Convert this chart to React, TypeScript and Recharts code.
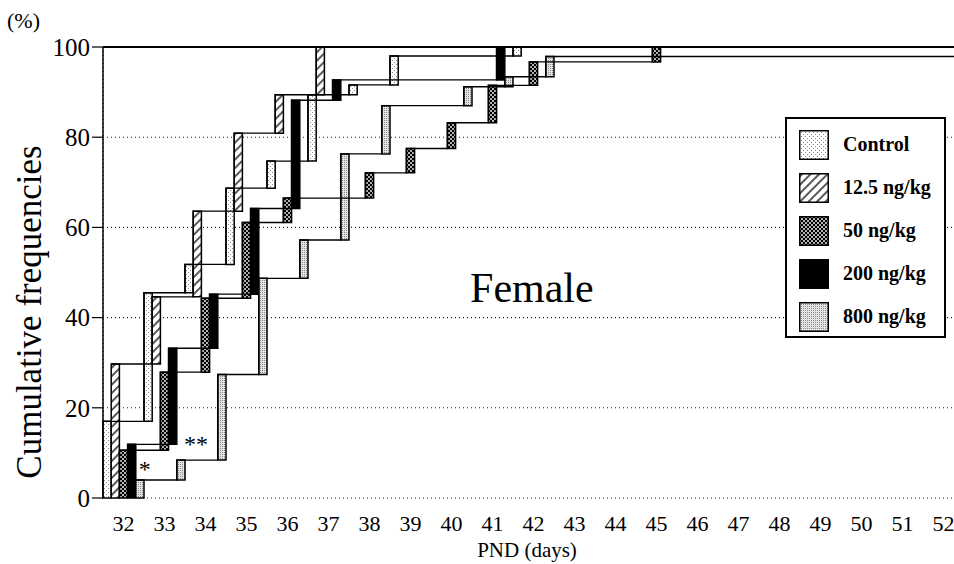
import React from 'react';
import {
  ComposedChart,
  Line,
  XAxis,
  YAxis,
  CartesianGrid,
  ReferenceArea,
  ReferenceLine,
  ReferenceDot,
  Legend,
} from 'recharts';

const SERIF = "'Liberation Serif', 'Times New Roman', Times, serif";

// x categories (PND days) and y ticks
const DAYS = [32, 33, 34, 35, 36, 37, 38, 39, 40, 41, 42, 43, 44, 45, 46, 47, 48, 49, 50, 51, 52];
const Y_TICKS = [0, 20, 40, 60, 80, 100];
const SERIES_NAMES = ['Control', '12.5 ng/kg', '50 ng/kg', '200 ng/kg', '800 ng/kg'];

// cumulative frequencies (%) at each day where the curve steps up
const CONTROL_DAYS = [32, 33, 34, 35, 36, 37, 38, 39, 42];
const CONTROL_CUM = [17.0, 45.5, 51.8, 68.7, 74.7, 89.4, 91.6, 98.0, 100];

const D12_DAYS = [32, 33, 34, 35, 36, 37];
const D12_CUM = [29.7, 44.6, 63.6, 80.9, 89.4, 100];

const D50_DAYS = [32, 33, 34, 35, 36, 38, 39, 40, 41, 42, 45];
const D50_CUM = [10.6, 27.9, 44.3, 61.1, 66.5, 72.1, 77.5, 83.2, 91.5, 96.7, 100];

const D200_DAYS = [32, 33, 34, 35, 36, 37, 41];
const D200_CUM = [11.9, 33.2, 45.2, 64.2, 88.2, 92.7, 100];

const D800_DAYS = [32, 33, 34, 35, 36, 37, 38, 40, 41, 42];
const D800_CUM = [4.0, 8.4, 27.4, 48.7, 57.2, 76.3, 87.0, 91.2, 93.4, 97.9];

// annotations
const STAR_1 = { text: '*', x: 32.52, y: 7.1 };
const STAR_2 = { text: '**', x: 33.77, y: 12.6 };
const PANEL_LABEL = { text: 'Female', x: 41.96, y: 43.5 };

const SERIES = [
  { name: SERIES_NAMES[0], days: CONTROL_DAYS, cum: CONTROL_CUM },
  { name: SERIES_NAMES[1], days: D12_DAYS, cum: D12_CUM },
  { name: SERIES_NAMES[2], days: D50_DAYS, cum: D50_CUM },
  { name: SERIES_NAMES[3], days: D200_DAYS, cum: D200_CUM },
  { name: SERIES_NAMES[4], days: D800_DAYS, cum: D800_CUM },
];

const SLOT = 1 / SERIES.length;
const X_MIN = DAYS[0] - 0.5;
const X_MAX = DAYS[DAYS.length - 1] + 0.5;
const BOUNDS = [...DAYS.map((d) => d - 0.5), X_MAX];

const CSS = `
.chart-root, .chart-root text, .chart-root tspan { font-family: 'Liberation Serif', 'Times New Roman', Times, serif !important; }
`;

function Patterns({ p }: { p: string }) {
  return (
    <defs>
      <pattern id={`${p}-0`} width="4" height="4" patternUnits="userSpaceOnUse">
        <rect width="4" height="4" fill="#fff" />
        <rect x="0" y="0" width="1" height="1" fill="#8c8c8c" />
        <rect x="2" y="2" width="1" height="1" fill="#8c8c8c" />
      </pattern>
      <pattern id={`${p}-1`} width="6" height="6" patternUnits="userSpaceOnUse" patternTransform="rotate(45)">
        <rect width="6" height="6" fill="#fff" />
        <line x1="3" y1="0" x2="3" y2="6" stroke="#000" strokeWidth="1.3" />
      </pattern>
      <pattern id={`${p}-2`} width="4" height="4" patternUnits="userSpaceOnUse">
        <rect width="4" height="4" fill="#000" />
        <circle cx="1" cy="1" r="0.95" fill="#fff" />
        <circle cx="3" cy="3" r="0.95" fill="#fff" />
      </pattern>
      <pattern id={`${p}-3`} width="4" height="4" patternUnits="userSpaceOnUse">
        <rect width="4" height="4" fill="#000" />
      </pattern>
      <pattern id={`${p}-4`} width="2" height="2" patternUnits="userSpaceOnUse">
        <rect width="2" height="2" fill="#e4e4e4" />
        <rect width="1" height="1" fill="#8a8a8a" />
      </pattern>
    </defs>
  );
}

function LegendBox() {
  return (
    <div
      style={{
        position: 'relative',
        width: 161,
        height: 221,
        boxSizing: 'border-box',
        border: '2px solid #000',
        background: '#fff',
        fontFamily: SERIF,
      }}
    >
      {SERIES_NAMES.map((n, i) => (
        <div
          key={n}
          style={{
            position: 'absolute',
            left: 12,
            top: 10.7 + 43 * i,
            height: 30,
            display: 'flex',
            alignItems: 'center',
          }}
        >
          <svg width={30} height={30} style={{ display: 'block' }}>
            <Patterns p={`lg${i}`} />
            <rect x={0.75} y={0.75} width={28.5} height={28.5} fill={`url(#lg${i}-${i})`} stroke="#000" strokeWidth={1.5} />
          </svg>
          <span style={{ marginLeft: 14, fontWeight: 'bold', fontSize: 20, color: '#000', whiteSpace: 'nowrap' }}>{n}</span>
        </div>
      ))}
    </div>
  );
}

function TextMark(props: any, text: string, size: number, dy: string) {
  return (
    <text x={props.cx} y={props.cy} dy={dy} textAnchor="middle" fontSize={size} fontFamily={SERIF} fill="#000">
      {text}
    </text>
  );
}

function XTick(props: any) {
  return (
    <text x={props.x} y={props.y} dy={33} textAnchor="middle" fontSize={22} fontFamily={SERIF} fill="#000">
      {props.payload.value}
    </text>
  );
}

function YTick(props: any) {
  return (
    <text x={props.x} y={props.y} dy="0.35em" textAnchor="end" fontSize={25} fontFamily={SERIF} fill="#000">
      {props.payload.value}
    </text>
  );
}

export default function App() {
  return (
    <div
      className="chart-root"
      style={{ position: 'absolute', left: 0, top: 0, width: 954, height: 564, overflow: 'hidden', background: '#fff', fontFamily: SERIF }}
    >
      <style>{CSS}</style>
      <ComposedChart width={975} height={564} margin={{ top: 47, right: 11, bottom: 36, left: 0 }}>
        <Patterns p="pc" />
        <CartesianGrid xAxisId="grid" stroke="#222" strokeWidth={1.1} strokeDasharray="1 3" />
        <XAxis
          xAxisId="grid"
          type="number"
          dataKey="x"
          domain={[X_MIN, X_MAX]}
          ticks={BOUNDS}
          interval={0}
          height={0}
          tick={false}
          tickSize={6}
          axisLine={{ stroke: '#000', strokeWidth: 1.5 }}
          tickLine={{ stroke: '#000', strokeWidth: 1.2 }}
          allowDataOverflow
        />
        <XAxis
          xAxisId="lab"
          type="number"
          dataKey="x"
          domain={[X_MIN, X_MAX]}
          ticks={DAYS}
          interval={0}
          height={30}
          axisLine={false}
          tickLine={false}
          tickSize={0}
          tickMargin={0}
          tick={XTick}
          allowDataOverflow
        />
        <YAxis
          type="number"
          domain={[0, 100]}
          ticks={Y_TICKS}
          interval={0}
          width={103}
          tickSize={11}
          tickMargin={2}
          axisLine={{ stroke: '#000', strokeWidth: 1.5 }}
          tickLine={{ stroke: '#000', strokeWidth: 1.2 }}
          tick={YTick}
          allowDataOverflow
        />
        <ReferenceLine xAxisId="grid" y={100} stroke="#000" strokeWidth={2} />
        {SERIES.map((s, i) => {
          const data = s.days.map((d, k) => ({ x: d - 0.5 + i * SLOT, y: s.cum[k] }));
          data.push({ x: X_MAX, y: s.cum[s.cum.length - 1] });
          return (
            <Line
              key={s.name}
              xAxisId="grid"
              name={s.name}
              data={data}
              dataKey="y"
              type="stepAfter"
              stroke="#000"
              strokeWidth={1.4}
              dot={false}
              activeDot={false}
              isAnimationActive={false}
            />
          );
        })}
        {SERIES.map((s, i) =>
          s.days.map((d, k) => (
            <ReferenceArea
              key={`${s.name}-${d}`}
              xAxisId="grid"
              x1={d - 0.5 + i * SLOT}
              x2={d - 0.5 + (i + 1) * SLOT}
              y1={k === 0 ? 0 : s.cum[k - 1]}
              y2={s.cum[k]}
              fill={`url(#pc-${i})`}
              fillOpacity={1}
              stroke="#000"
              strokeWidth={1.5}
              ifOverflow="visible"
            />
          ))
        )}
        <ReferenceDot xAxisId="grid" x={STAR_1.x} y={STAR_1.y} r={0} shape={(p: any) => TextMark(p, STAR_1.text, 24, '0.47em')} />
        <ReferenceDot xAxisId="grid" x={STAR_2.x} y={STAR_2.y} r={0} shape={(p: any) => TextMark(p, STAR_2.text, 24, '0.47em')} />
        <ReferenceDot xAxisId="grid" x={PANEL_LABEL.x} y={PANEL_LABEL.y} r={0} shape={(p: any) => TextMark(p, PANEL_LABEL.text, 42, '0')} />
        <Legend
          layout="vertical"
          align="center"
          verticalAlign="middle"
          wrapperStyle={{ left: 785, top: 117, width: 161, height: 221 }}
          content={() => <LegendBox />}
        />
        <text x={7} y={28} fontSize={22} fontFamily={SERIF} fill="#000">(%)</text>
        <text transform="translate(41,312) rotate(-90)" textAnchor="middle" fontSize={35} fontFamily={SERIF} fill="#000">
          Cumulative frequencies
        </text>
        <text x={527} y={557} textAnchor="middle" fontSize={21} fontFamily={SERIF} fill="#000">PND (days)</text>
      </ComposedChart>
    </div>
  );
}
